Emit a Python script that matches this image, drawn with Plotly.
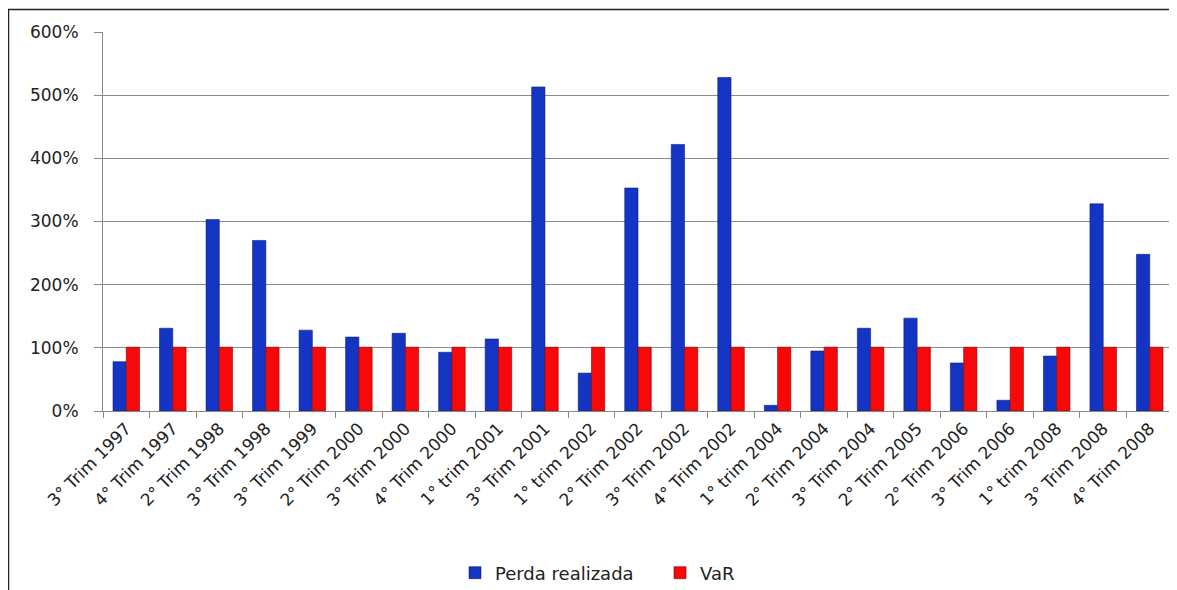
import plotly.graph_objects as go

categories = ["3° Trim 1997", "4° Trim 1997", "2° Trim 1998", "3° Trim 1998", "3° Trim 1999",
              "2° Trim 2000", "3° Trim 2000", "4° Trim 2000", "1° trim 2001", "3° Trim 2001",
              "1° trim 2002", "2° Trim 2002", "3° Trim 2002", "4° Trim 2002", "1° trim 2004",
              "2° Trim 2004", "3° Trim 2004", "2° Trim 2005", "2° Trim 2006", "3° Trim 2006",
              "1° trim 2008", "3° Trim 2008", "4° Trim 2008"]
perda = [0.78, 1.31, 3.03, 2.70, 1.28, 1.17, 1.23, 0.93, 1.14, 5.13, 0.60, 3.53, 4.22,
         5.28, 0.09, 0.95, 1.31, 1.47, 0.76, 0.17, 0.87, 3.28, 2.48]
var = [1.01] * len(categories)
y_ticks = [0, 1, 2, 3, 4, 5, 6]

FONT = "DejaVu Sans"
OFF = 8  # default page body margin

fig = go.Figure()
fig.add_trace(go.Bar(name="Perda realizada", x=categories, y=perda,
                     marker=dict(color="#1434c4", line=dict(color="#0c1f80", width=0.6))))
fig.add_trace(go.Bar(name="VaR", x=categories, y=var,
                     marker=dict(color="#f80808", line=dict(color="#8a0000", width=0.6))))

W, H = 1177 - OFF, 590 - OFF
L, R, T, B = 103 - OFF, 4, 32 - OFF, 179
pw = W - L - R
ph = H - T - B

def px_x(X):
    return (X - OFF - L) / pw

def px_y(Y):
    return (H - B - (Y - OFF)) / ph

fig.update_layout(
    width=W, height=H,
    margin=dict(l=L, r=R, t=T, b=B, autoexpand=False),
    paper_bgcolor="white", plot_bgcolor="white",
    barmode="group", bargap=0.43, bargroupgap=0.0,
    font=dict(family=FONT, size=17, color="#222222"),
    showlegend=True,
    legend=dict(orientation="h", xref="container", yref="container",
                x=(455 - OFF) / W, xanchor="left", y=1 - (573 - OFF) / H, yanchor="middle",
                font=dict(family=FONT, size=18, color="#222222"), itemwidth=30,
                entrywidth=160, traceorder="normal"),
    xaxis=dict(type="category", tickangle=-45, showgrid=False, showline=True, linecolor="#888888",
               linewidth=1, ticks="outside", tickson="boundaries", ticklen=6, tickcolor="#888888",
               automargin=False,
               tickfont=dict(family=FONT, size=17, color="#222222"), range=[-0.5, len(categories) - 0.5]),
    yaxis=dict(range=[0, 6], tickvals=y_ticks, tickformat=".0%", showgrid=True, gridcolor="#8a8a8a",
               gridwidth=1, showline=True, linecolor="#888888", linewidth=1, ticks="outside",
               ticklen=8, tickcolor="#888888", zeroline=False, ticklabelstandoff=12, automargin=False,
               tickfont=dict(family=FONT, size=17, color="#222222")),
    shapes=[dict(type="rect", xref="paper", yref="paper", x0=px_x(8.5), x1=px_x(1200),
                 y0=px_y(620), y1=px_y(9.5), line=dict(color="#222222", width=1.5),
                 fillcolor="rgba(0,0,0,0)", layer="below")],
)

fig.write_html("out.html")
